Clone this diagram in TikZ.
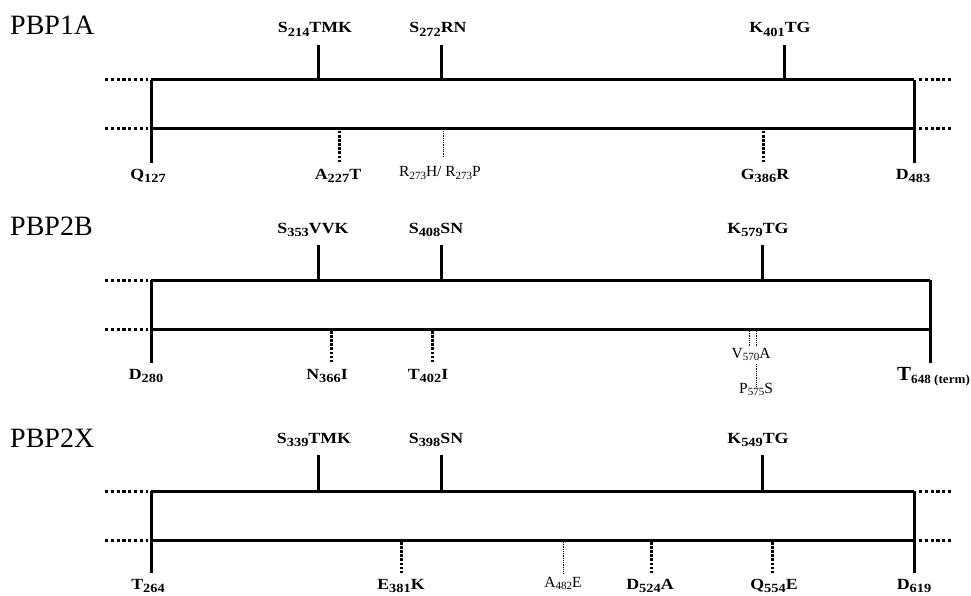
\documentclass[tikz,border=0pt]{standalone}
\usepackage{fontspec}
\setmainfont{Liberation Serif}
\usepackage{graphicx}
% subscript for thin (regular) labels
\newcommand\sbs[1]{\raisebox{-2.5pt}{\fontsize{11}{11}\selectfont #1}}
% subscript for bold labels
\newcommand\bsb[1]{\raisebox{-3.5pt}{\fontsize{12.5}{12.5}\selectfont\bfseries #1}}
% horizontally widened bold label
\newcommand\blab[1]{\scalebox{1.15}[1]{#1}}
\tikzset{
  bar/.style={line width=3pt},
  stub/.style={line width=3pt, dash pattern=on 3.2pt off 2.6pt},
  mut/.style={line width=3pt, dash pattern=on 2.5pt off 1.6pt},
  thinmut/.style={line width=0.9pt, dash pattern=on 1pt off 0.8pt},
  ttl/.style={inner sep=0pt, anchor=base west, font=\fontsize{28}{28}\selectfont},
  lab/.style={inner sep=0pt, anchor=base, font=\fontsize{15.5}{15.5}\selectfont\bfseries},
  tlab/.style={inner sep=0pt, anchor=base, font=\fontsize{15.5}{15.5}\selectfont},
}
\begin{document}
\begin{tikzpicture}[x=1pt,y=-1pt]
\useasboundingbox (0,0) rectangle (971,596);
% ================= PBP1A =================
\node[ttl] (t1) at (10,35) {PBP1A};
\coordinate (a1tl) at (151,80); \coordinate (a1tr) at (914,80);
\coordinate (a1bl) at (151,129); \coordinate (a1br) at (914,129);
\draw[bar] (a1tl) -- (a1tr); \draw[bar] (a1bl) -- (a1br);
\draw[bar] (a1tl) -- (151,163); \draw[bar] (a1tr) -- (914,163);
\draw[stub] (105,80) -- (148,80); \draw[stub] (105,129) -- (148,129);
\draw[stub] (919,80) -- (952,80); \draw[stub] (919,129) -- (952,129);
\node[lab] (a1m1) at (315,33) {\blab{S\bsb{214}TMK}};
\node[lab] (a1m2) at (438,33) {\blab{S\bsb{272}RN}};
\node[lab] (a1m3) at (780,33) {\blab{K\bsb{401}TG}};
\draw[bar] (318,45) -- (318,80);
\draw[bar] (441,45) -- (441,80);
\draw[bar] (784,45) -- (784,80);
\draw[mut] (339,131) -- (339,163);
\draw[thinmut] (443,131) -- (443,157);
\draw[mut] (763,131) -- (763,163);
\node[lab] (a1b1) at (148,179) {\blab{Q\bsb{127}}};
\node[lab] (a1b2) at (338,179) {\blab{A\bsb{227}T}};
\node[tlab] (a1b3) at (440,177) {R\sbs{273}H/ R\sbs{273}P};
\node[lab] (a1b4) at (765,179) {\blab{G\bsb{386}R}};
\node[lab] (a1b5) at (913,179) {\blab{D\bsb{483}}};
% ================= PBP2B =================
\node[ttl] (t2) at (10,235) {PBP2B};
\coordinate (b1tl) at (151,280); \coordinate (b1tr) at (930,280);
\coordinate (b1bl) at (151,329); \coordinate (b1br) at (930,329);
\draw[bar] (b1tl) -- (b1tr); \draw[bar] (b1bl) -- (b1br);
\draw[bar] (b1tl) -- (151,363); \draw[bar] (b1tr) -- (930,363);
\draw[stub] (105,280) -- (148,280); \draw[stub] (105,329) -- (148,329);
\node[lab] (b1m1) at (313,233) {\blab{S\bsb{353}VVK}};
\node[lab] (b1m2) at (436,233) {\blab{S\bsb{408}SN}};
\node[lab] (b1m3) at (758,233) {\blab{K\bsb{579}TG}};
\draw[bar] (318,245) -- (318,280);
\draw[bar] (441,245) -- (441,280);
\draw[bar] (762,245) -- (762,280);
\draw[mut] (331,331) -- (331,363);
\draw[mut] (432,331) -- (432,363);
\draw[thinmut] (749,331) -- (749,347);
\draw[thinmut] (756,331) -- (756,347);
\draw[thinmut] (756,364) -- (756,386);
\node[lab] (b1b1) at (146,379) {\blab{D\bsb{280}}};
\node[lab] (b1b2) at (327,379) {\blab{N\bsb{366}I}};
\node[lab] (b1b3) at (428,379) {\blab{T\bsb{402}I}};
\node[tlab] (b1b4) at (751,358) {V\sbs{570}A};
\node[tlab] (b1b5) at (756,393) {P\sbs{575}S};
\node[inner sep=0pt, anchor=base west, font=\fontsize{20}{20}\selectfont\bfseries] (b1b6) at (897,380)
  {\scalebox{1.05}[1]{T\raisebox{-3.5pt}{\fontsize{12.5}{12.5}\selectfont 648 (term)}}};
% ================= PBP2X =================
\node[ttl] (t3) at (10,447) {PBP2X};
\coordinate (c1tl) at (151,491); \coordinate (c1tr) at (914,491);
\coordinate (c1bl) at (151,540); \coordinate (c1br) at (914,540);
\draw[bar] (c1tl) -- (c1tr); \draw[bar] (c1bl) -- (c1br);
\draw[bar] (c1tl) -- (151,573); \draw[bar] (c1tr) -- (914,573);
\draw[stub] (105,491) -- (148,491); \draw[stub] (105,540) -- (148,540);
\draw[stub] (919,491) -- (952,491); \draw[stub] (919,540) -- (952,540);
\node[lab] (c1m1) at (314,443) {\blab{S\bsb{339}TMK}};
\node[lab] (c1m2) at (436,443) {\blab{S\bsb{398}SN}};
\node[lab] (c1m3) at (758,443) {\blab{K\bsb{549}TG}};
\draw[bar] (318,455) -- (318,491);
\draw[bar] (441,455) -- (441,491);
\draw[bar] (762,455) -- (762,491);
\draw[mut] (401,542) -- (401,574);
\draw[thinmut] (563,542) -- (563,573);
\draw[mut] (651,542) -- (651,574);
\draw[mut] (772,542) -- (772,574);
\node[lab] (c1b1) at (148,589) {\blab{T\bsb{264}}};
\node[lab] (c1b2) at (401,589) {\blab{E\bsb{381}K}};
\node[tlab] (c1b3) at (563,587) {A\sbs{482}E};
\node[lab] (c1b4) at (650,589) {\blab{D\bsb{524}A}};
\node[lab] (c1b5) at (774,589) {\blab{Q\bsb{554}E}};
\node[lab] (c1b6) at (914,589) {\blab{D\bsb{619}}};
\end{tikzpicture}
\end{document}
